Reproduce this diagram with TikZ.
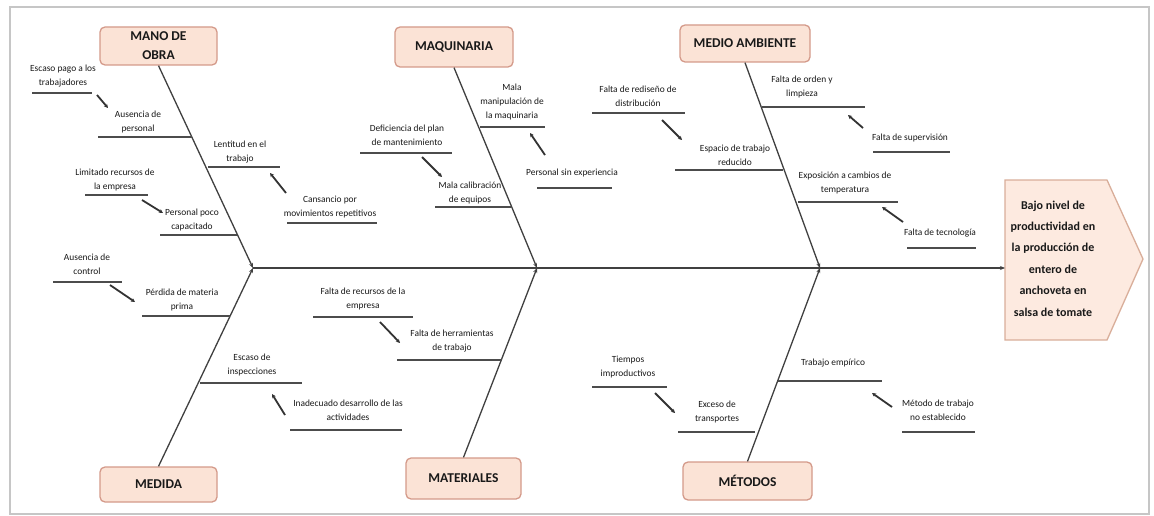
\documentclass[tikz,border=0pt]{standalone}
\usepackage{fontspec}
\setmainfont{Carlito}
\usetikzlibrary{arrows.meta,calc}
\definecolor{boxfill}{HTML}{FBE3D6}
\definecolor{boxdraw}{HTML}{D49A8A}
\definecolor{efill}{HTML}{FDEAE0}
\definecolor{edraw}{HTML}{D9AE9A}
\begin{document}
\begin{tikzpicture}[x=1pt,y=-1pt,
  cat/.style={draw=boxdraw, line width=1.3pt, fill=boxfill, rounded corners=5pt,
    font=\fontsize{13.5}{19}\selectfont\bfseries, align=center, inner sep=0pt, text=black!90},
  lab/.style={font=\fontsize{9.4}{14}\selectfont, align=center, inner sep=0pt, text=black!90},
  ul/.style={draw=black!70, line width=1.3pt},
  bone/.style={draw=black!75, line width=1.3pt, -{Stealth[length=5pt,width=4pt]}},
  smarrow/.style={draw=black!80, line width=1.8pt, -{Stealth[length=4pt,width=4pt]}},
  efftext/.style={font=\fontsize{12}{21.4}\selectfont\bfseries, align=center, inner sep=0pt, text=black!90}]
\useasboundingbox (0,0) rectangle (1154,516);
\fill[white] (0,0) rectangle (1154,516);
\draw[gray!45, line width=1.5pt] (10,7) rectangle (1149,514);

% junctions
\coordinate (j1) at (253,268);
\coordinate (j2) at (537,268);
\coordinate (j3) at (820,268);

% category boxes
\node[cat, minimum width=117, minimum height=38] (mo) at (158.5,46) {MANO DE\\OBRA};
\node[cat, minimum width=117, minimum height=35] (me) at (158.5,484.5) {MEDIDA};
\node[cat, minimum width=118, minimum height=40] (mq) at (454,47) {MAQUINARIA};
\node[cat, minimum width=115, minimum height=41] (mt) at (463.5,478.5) {MATERIALES};
\node[cat, minimum width=130, minimum height=37] (ma) at (745,43.5) {MEDIO AMBIENTE};
\node[cat, minimum width=129, minimum height=38] (md) at (747.5,481) {MÉTODOS};

% effect box
\draw[draw=edraw, line width=1.3pt, fill=efill] (1005,180) -- (1107,180) -- (1143,259) -- (1107,340) -- (1005,340) -- cycle;
\node[efftext] (ef) at (1053,258.5) {Bajo nivel de\\productividad en\\la producción de\\entero de\\anchoveta en\\salsa de tomate};
\coordinate (efw) at (1005,268);

% spine and bones
\draw[bone] (j1) -- (efw);
\draw[bone] (mo.south) -- (j1);
\draw[bone] (me.north) -- (j1);
\draw[bone] (mq.south) -- (j2);
\draw[bone] (mt.north) -- (j2);
\draw[bone] (ma.south) -- (j3);
\draw[bone] (md.north) -- (j3);

% ---- Mano de obra
\node[lab] (mo1) at (63,76.5) {Escaso pago a los\\trabajadores}; \draw[ul] (32,93) -- (92,93);
\node[lab] (mo2) at (138,121.5) {Ausencia de\\personal}; \draw[ul] (98,137) -- (192,137);
\node[lab] (mo3) at (240,152.5) {Lentitud en el\\trabajo}; \draw[ul] (208,167) -- (280,167);
\node[lab] (mo4) at (330,207.5) {Cansancio por\\movimientos repetitivos}; \draw[ul] (287,223) -- (377,223);
\node[lab] (mo5) at (115,179.5) {Limitado recursos de\\la empresa}; \draw[ul] (85,195) -- (148,195);
\node[lab] (mo6) at (192,219.5) {Personal poco\\capacitado}; \draw[ul] (160,235) -- (237,235);
\coordinate (a1s) at (97,95); \coordinate (a1e) at (108,108);
\coordinate (a2s) at (286,193); \coordinate (a2e) at (270,173);
\coordinate (a3s) at (142,200); \coordinate (a3e) at (163,213);
\draw[smarrow] (a1s) -- (a1e);
\draw[smarrow] (a2s) -- (a2e);
\draw[smarrow] (a3s) -- (a3e);

% ---- Medida
\node[lab] (me1) at (87,264.5) {Ausencia de\\control}; \draw[ul] (53,282) -- (122,282);
\node[lab] (me2) at (182,299.5) {Pérdida de materia\\prima}; \draw[ul] (142,316) -- (230,316);
\node[lab] (me3) at (252,364.5) {Escaso de\\inspecciones}; \draw[ul] (200,383) -- (302,383);
\node[lab] (me4) at (348,410.5) {Inadecuado desarrollo de las\\actividades}; \draw[ul] (290,430) -- (402,430);
\coordinate (b1s) at (110,285); \coordinate (b1e) at (135,302);
\coordinate (b2s) at (285,415); \coordinate (b2e) at (272,394);
\draw[smarrow] (b1s) -- (b1e);
\draw[smarrow] (b2s) -- (b2e);

% ---- Maquinaria
\node[lab] (mq1) at (512,102) {Mala\\manipulación de\\la maquinaria}; \draw[ul] (480,127) -- (545,127);
\node[lab] (mq2) at (407,135.5) {Deficiencia del plan\\de mantenimiento}; \draw[ul] (360,153) -- (452,153);
\node[lab] (mq3) at (470,192.5) {Mala calibración\\de equipos}; \draw[ul] (435,207) -- (511,207);
\node[lab] (mq4) at (572,173) {Personal sin experiencia}; \draw[ul] (537,188) -- (612,188);
\coordinate (c1s) at (422,157); \coordinate (c1e) at (442,177);
\coordinate (c2s) at (545,155); \coordinate (c2e) at (530,133);
\draw[smarrow] (c1s) -- (c1e);
\draw[smarrow] (c2s) -- (c2e);

% ---- Materiales
\node[lab] (mt1) at (363,298.5) {Falta de recursos de la\\empresa}; \draw[ul] (313,317) -- (413,317);
\node[lab] (mt2) at (452,341.5) {Falta de herramientas\\de trabajo}; \draw[ul] (397,360) -- (502,360);
\coordinate (d1s) at (380,322); \coordinate (d1e) at (400,343);
\draw[smarrow] (d1s) -- (d1e);

% ---- Medio ambiente
\node[lab] (ma1) at (638,96.5) {Falta de rediseño de\\distribución}; \draw[ul] (592,113) -- (685,113);
\node[lab] (ma2) at (735,155.5) {Espacio de trabajo\\reducido}; \draw[ul] (675,170) -- (783,170);
\node[lab] (ma3) at (802,86.5) {Falta de orden y\\limpieza}; \draw[ul] (762,107) -- (865,107);
\node[lab] (ma4) at (910,138) {Falta de supervisión}; \draw[ul] (873,152) -- (950,152);
\node[lab] (ma5) at (845,182.5) {Exposición a cambios de\\temperatura}; \draw[ul] (798,202) -- (898,202);
\node[lab] (ma6) at (940,233) {Falta de tecnología}; \draw[ul] (907,248) -- (976,248);
\coordinate (e1s) at (662,120); \coordinate (e1e) at (682,140);
\coordinate (e2s) at (863,128); \coordinate (e2e) at (848,115);
\coordinate (e3s) at (903,222); \coordinate (e3e) at (882,207);
\draw[smarrow] (e1s) -- (e1e);
\draw[smarrow] (e2s) -- (e2e);
\draw[smarrow] (e3s) -- (e3e);

% ---- Métodos
\node[lab] (md1) at (628,367) {Tiempos\\improductivos}; \draw[ul] (592,387) -- (667,387);
\node[lab] (md2) at (717,411.5) {Exceso de\\transportes}; \draw[ul] (678,432) -- (755,432);
\node[lab] (md3) at (833,363) {Trabajo empírico}; \draw[ul] (778,381) -- (882,381);
\node[lab] (md4) at (938,410.5) {Método de trabajo\\no establecido}; \draw[ul] (902,432) -- (975,432);
\coordinate (f1s) at (655,393); \coordinate (f1e) at (675,413);
\coordinate (f2s) at (892,407); \coordinate (f2e) at (872,393);
\draw[smarrow] (f1s) -- (f1e);
\draw[smarrow] (f2s) -- (f2e);
\end{tikzpicture}
\end{document}
